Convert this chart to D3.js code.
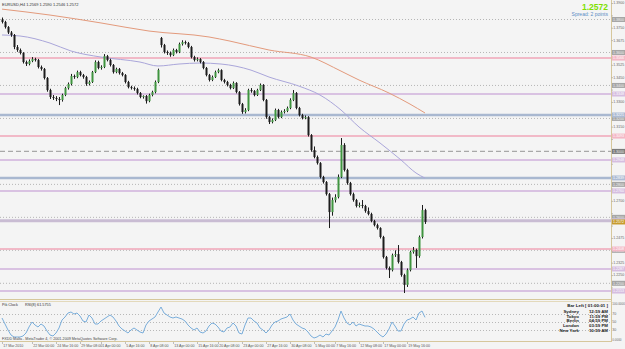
<!DOCTYPE html>
<html><head><meta charset="utf-8">
<script src="https://cdn.jsdelivr.net/npm/d3@7"></script>
<style>html,body{margin:0;padding:0;background:#f4f4f4;overflow:hidden}svg{display:block}</style>
</head><body><svg id="c" width="625" height="349"></svg>
<script>
// ---------- DATA ----------
const firstOpen = 1.3800;
const gapOpens = {53: 1.3688};
const closes = [1.3785,1.3754,1.3721,1.3706,1.3633,1.3615,1.3597,1.3542,1.3530,1.3548,
1.3560,1.3554,1.3512,1.3500,1.3445,1.3372,1.3330,1.3324,1.3318,1.3312,
1.3342,1.3384,1.3409,1.3457,1.3451,1.3481,1.3463,1.3451,1.3409,1.3421,
1.3481,1.3542,1.3506,1.3512,1.3578,1.3554,1.3524,1.3481,1.3500,1.3475,
1.3463,1.3421,1.3390,1.3384,1.3378,1.3354,1.3330,1.3336,1.3305,1.3342,
1.3360,1.3421,1.3494,1.3645,1.3603,1.3597,1.3584,1.3615,1.3603,1.3651,
1.3663,1.3657,1.3633,1.3572,1.3554,1.3560,1.3542,1.3506,1.3463,1.3433,
1.3451,1.3481,1.3493,1.3433,1.3421,1.3403,1.3384,1.3415,1.3360,1.3287,
1.3239,1.3251,1.3372,1.3366,1.3342,1.3372,1.3403,1.3312,1.3208,1.3178,
1.3190,1.3251,1.3208,1.3239,1.3245,1.3263,1.3312,1.3354,1.3263,1.3220,
1.3202,1.3208,1.3099,1.3008,1.2966,1.2929,1.2845,1.2814,1.2741,1.2632,
1.2705,1.2723,1.2845,1.3039,1.2887,1.2808,1.2741,1.2705,1.2669,1.2675,
1.2669,1.2638,1.2620,1.2578,1.2553,1.2535,1.2481,1.2359,1.2293,1.2280,
1.2371,1.2377,1.2329,1.2250,1.2190,1.2280,1.2390,1.2402,1.2365,1.2481,
1.2644,1.2572];
const highs = [1.3812,1.3792,1.3760,1.3730,1.3712,1.3645,1.3624,1.3602,1.3551,1.3558,
1.3572,1.3568,1.3561,1.3521,1.3506,1.3451,1.3380,1.3342,1.3335,1.3330,
1.3350,1.3392,1.3418,1.3470,1.3466,1.3490,1.3489,1.3470,1.3458,1.3430,
1.3488,1.3552,1.3550,1.3522,1.3590,1.3585,1.3562,1.3530,1.3508,1.3506,
1.3482,1.3469,1.3428,1.3398,1.3394,1.3386,1.3360,1.3340,1.3342,1.3350,
1.3368,1.3430,1.3502,1.3694,1.3652,1.3612,1.3606,1.3624,1.3622,1.3660,
1.3674,1.3672,1.3664,1.3640,1.3580,1.3570,1.3566,1.3548,1.3512,1.3470,
1.3460,1.3490,1.3502,1.3498,1.3440,1.3428,1.3410,1.3424,1.3420,1.3366,
1.3294,1.3262,1.3380,1.3384,1.3372,1.3380,1.3412,1.3408,1.3318,1.3215,
1.3200,1.3260,1.3258,1.3248,1.3256,1.3272,1.3322,1.3372,1.3360,1.3270,
1.3228,1.3218,1.3214,1.3105,1.3030,1.2975,1.2935,1.2852,1.2820,1.2748,
1.2720,1.2740,1.2860,1.3081,1.3050,1.2895,1.2815,1.2750,1.2712,1.2690,
1.2705,1.2676,1.2660,1.2628,1.2585,1.2562,1.2540,1.2488,1.2366,1.2302,
1.2380,1.2400,1.2432,1.2336,1.2258,1.2290,1.2398,1.2420,1.2410,1.2490,
1.2675,1.2652];
const lows = [1.3776,1.3745,1.3712,1.3695,1.3620,1.3604,1.3588,1.3533,1.3518,1.3522,
1.3541,1.3545,1.3503,1.3490,1.3436,1.3362,1.3318,1.3312,1.3305,1.3281,
1.3302,1.3335,1.3375,1.3400,1.3440,1.3444,1.3455,1.3441,1.3398,1.3400,
1.3415,1.3475,1.3498,1.3496,1.3505,1.3546,1.3515,1.3472,1.3474,1.3466,
1.3455,1.3412,1.3382,1.3375,1.3368,1.3345,1.3322,1.3320,1.3290,1.3298,
1.3334,1.3352,1.3414,1.3630,1.3594,1.3585,1.3574,1.3578,1.3594,1.3596,
1.3642,1.3648,1.3625,1.3564,1.3545,1.3546,1.3534,1.3498,1.3455,1.3424,
1.3426,1.3445,1.3474,1.3425,1.3412,1.3394,1.3376,1.3378,1.3352,1.3278,
1.3228,1.3230,1.3244,1.3356,1.3334,1.3336,1.3366,1.3304,1.3198,1.3166,
1.3170,1.3184,1.3200,1.3202,1.3230,1.3238,1.3256,1.3305,1.3255,1.3212,
1.3194,1.3195,1.3090,1.2998,1.2958,1.2920,1.2836,1.2805,1.2732,1.2535,
1.2610,1.2690,1.2715,1.2838,1.2878,1.2798,1.2732,1.2695,1.2660,1.2660,
1.2655,1.2628,1.2612,1.2570,1.2545,1.2526,1.2472,1.2350,1.2284,1.2232,
1.2272,1.2360,1.2320,1.2240,1.2141,1.2178,1.2272,1.2380,1.2293,1.2355,
1.2472,1.2560];

const maSlowIdx = [0,16,33,49,69,76,89,103,113,119,129,136,141];
const maSlow = [1.3863,1.3827,1.3779,1.3730,1.3694,1.3669,1.3615,1.3572,1.3487,1.3433,1.3354,1.3287,1.3233];
const maMidIdx = [0,6,16,23,33,46,52,59,66,73,83,89,99,106,113,119,126,133,138,141];
const maMid = [1.3706,1.3700,1.3657,1.3609,1.3572,1.3542,1.3518,1.3530,1.3536,1.3530,1.3493,1.3451,1.3396,1.3342,1.3251,1.3148,1.3051,1.2948,1.2869,1.2838];

const rsi = [60,45,30,17.5,12.5,12.5,12.5,15,22.5,37.5,
50,42.5,37.5,45,40,27.5,17.5,15,22.5,35,
55,62.5,72.5,75,70,72.5,65,52.5,50,67.5,
60,45,45,52.5,57.5,62.5,67.5,62.5,52.5,40,
32.5,27.5,22.5,30,35,30,25,22.5,42.5,52.5,
57.5,62.5,75,87.5,72.5,67.5,62.5,60,62.5,60,
57.5,52.5,42.5,35,30,35,25,22.5,27.5,40,
47.5,45,37.5,27.5,25,35,37.5,47.5,40,22.5,
20,42.5,60,60,52.5,47.5,35,30,22.5,30,
42.5,50,52.5,57.5,60,62.5,70,55,45,40,
35,32.5,25,15,10,12.5,17.5,12.5,20,17.5,
27.5,37.5,55,77.5,60,47.5,42.5,50,40,45,
42.5,40,40,37.5,32.5,25,17.5,12.5,20,32.5,
50,40,27.5,27.5,45,55,57.5,62.5,55,72.5,
77.5,61.58];
const rsiLevels = [70,50,30];
const rsiAxisLabels = ['100.0000','70','50','30','0.0000'];
const rsiAxisValues = [100,70,50,30,0];

const levelPrices = [1.3800,1.3600,1.3400,1.3200,1.2800,1.2600,1.2400,1.2200,
  1.3000, 1.3566,1.3093,1.2408, 1.3348,1.2948,1.2760,1.2287,1.2153, 1.2580, 1.3221,1.2839];
const levelKinds = ['grid','grid','grid','grid','grid','grid','grid','grid',
  'dash','pink','pink','pink','lilac','lilac','lilac','lilac','lilac','thick','blue','blue'];

const priceTicks = [1.3900,1.3825,1.3750,1.3675,1.3600,1.3525,1.3450,1.3375,1.3300,1.3225,
  1.3150,1.3075,1.3000,1.2925,1.2850,1.2775,1.2700,1.2625,1.2550,1.2475,1.2400,1.2325,1.2250,1.2175];

const timeLabels = ['17 Mar 2010','22 Mar 00:00','24 Mar 16:00','29 Mar 08:00','1 Apr 00:00','5 Apr 16:00',
  '8 Apr 08:00','13 Apr 00:00','15 Apr 16:00','20 Apr 08:00','23 Apr 00:00','27 Apr 16:00','30 Apr 08:00',
  '5 May 00:00','7 May 16:00','12 May 08:00','17 May 00:00','19 May 16:00'];
const timeLabelIdx = [0,10,18,26,33,41,49,57,65,72,80,88,96,104,111,119,127,135];

const lastPrice = 1.2572;
const titleText = 'EURUSD,H4  1.2569 1.2590 1.2546 1.2572';
const clockRows = [['Sydney','12:59 AM'],['Tokyo','11:59 PM'],['Berlin','04:59 PM'],['London','03:59 PM'],['New York','10:59 AM']];

// ---------- DRAW ----------
const svg = d3.select('#c');
const FONT = 'Liberation Sans, Arial, sans-serif';
const x = d3.scaleLinear().domain([0, closes.length - 1]).range([2, 425]);
const y = d3.scaleLinear().domain([1.38, 1.22]).range([19.5, 283.3]);
const ry = d3.scaleLinear().domain([0, 100]).range([342, 302]);
const PR = 611.5;

svg.append('rect').attr('width', 625).attr('height', 349).attr('fill', '#f4f4f4');

const main = svg.append('g');
svg.append('clipPath').attr('id', 'cm').append('rect').attr('x', 0).attr('y', 0).attr('width', PR).attr('height', 299);
main.attr('clip-path', 'url(#cm)');

const lvlStyle = {
  grid: {c: '#b5b5b5', w: 1, d: '1,2', box: '#a6a6a6', t: '#f0f0f0'},
  dash: {c: '#a8a8a8', w: 1.2, d: '5,3', box: '#7c7c7c', t: '#eeeeee'},
  pink: {c: '#f1a6b8', w: 1.5, d: null, box: '#f3b8c6', t: '#ffffff'},
  lilac: {c: '#d0b2dd', w: 1.5, d: null, box: '#d6bee0', t: '#ffffff'},
  thick: {c: '#c9bcd3', w: 3, d: null, box: '#c9bcd3', t: '#ffffff'},
  blue: {c: '#a9b8d0', w: 2.5, d: null, box: '#aebcd4', t: '#ffffff'}
};
const levels = levelPrices.map((p, i) => ({p, k: levelKinds[i]}));
main.selectAll('line.lvl').data(levels).join('line')
  .attr('x1', 0).attr('x2', PR).attr('y1', d => y(d.p)).attr('y2', d => y(d.p))
  .attr('stroke', d => lvlStyle[d.k].c).attr('stroke-width', d => lvlStyle[d.k].w)
  .attr('stroke-dasharray', d => lvlStyle[d.k].d);

// moving averages
const lineGen = d3.line().x(d => x(d[0])).y(d => y(d[1])).curve(d3.curveMonotoneX);
main.append('path').attr('d', lineGen(maSlowIdx.map((v, i) => [v, maSlow[i]])))
  .attr('fill', 'none').attr('stroke', '#e39a7c').attr('stroke-width', 1);
main.append('path').attr('d', lineGen(maMidIdx.map((v, i) => [v, maMid[i]])))
  .attr('fill', 'none').attr('stroke', '#aaa6da').attr('stroke-width', 1);

// candles
const bars = closes.map((c, i) => ({
  i, c, h: highs[i], l: lows[i],
  o: gapOpens[i] !== undefined ? gapOpens[i] : (i === 0 ? firstOpen : closes[i - 1])
}));
main.selectAll('line.wick').data(bars).join('line')
  .attr('x1', d => Math.round(x(d.i)) + 0.5).attr('x2', d => Math.round(x(d.i)) + 0.5)
  .attr('y1', d => y(d.h)).attr('y2', d => y(d.l))
  .attr('stroke', '#1c1c1c').attr('stroke-width', 1);
main.selectAll('rect.body').data(bars).join('rect')
  .attr('x', d => Math.round(x(d.i)) - 0.5).attr('width', 2)
  .attr('y', d => Math.min(y(d.o), y(d.c)))
  .attr('height', d => Math.max(1, Math.abs(y(d.o) - y(d.c))))
  .attr('fill', d => d.c >= d.o ? '#3f943f' : '#1c1c1c');

// panel borders
const tan = '#d6c79c';
svg.append('line').attr('x1', PR).attr('x2', PR).attr('y1', 0).attr('y2', 342).attr('stroke', tan).attr('stroke-width', 1);
svg.append('line').attr('x1', 0).attr('x2', PR).attr('y1', 299.5).attr('y2', 299.5).attr('stroke', tan);
svg.append('line').attr('x1', 0).attr('x2', PR).attr('y1', 301.5).attr('y2', 301.5).attr('stroke', '#e3d9bb');
svg.append('line').attr('x1', 0).attr('x2', PR).attr('y1', 341.5).attr('y2', 341.5).attr('stroke', tan);

// price axis ticks (hidden where a line label box sits on top, as in the terminal)
const boxYs = levels.map(d => y(d.p)).concat([y(lastPrice)]);
const visTicks = priceTicks.filter(p => boxYs.every(b => Math.abs(b - y(p)) > 5.5) && y(p) > 3);
svg.selectAll('text.pt').data(visTicks).join('text')
  .attr('x', 613.3).attr('y', d => y(d) + 1.4)
  .attr('font-family', FONT).attr('font-size', 3.6).attr('fill', '#666')
  .text(d => d.toFixed(4));
svg.selectAll('line.ptk').data(priceTicks).join('line')
  .attr('x1', PR).attr('x2', PR + 1.5).attr('y1', d => y(d) + 0.5).attr('y2', d => y(d) + 0.5)
  .attr('stroke', '#999').attr('stroke-width', 0.6);

// level label boxes on axis
const lb = svg.selectAll('g.lb').data(levels).join('g')
  .attr('transform', d => `translate(612,${y(d.p) - 2.5})`);
lb.append('rect').attr('width', 13).attr('height', 5).attr('fill', d => lvlStyle[d.k].box);
lb.append('text').attr('x', 1).attr('y', 3.9).attr('font-family', FONT).attr('font-size', 3.6)
  .attr('fill', d => lvlStyle[d.k].t).text(d => d.p.toFixed(4));

// current price box
const cp = svg.append('g').attr('transform', `translate(612,${y(lastPrice) - 2.5})`);
cp.append('rect').attr('width', 13).attr('height', 5).attr('fill', '#c79b2e');
cp.append('text').attr('x', 1).attr('y', 3.9).attr('font-family', FONT).attr('font-size', 3.6).attr('fill', '#fff').text(lastPrice.toFixed(4));

// title & header
svg.append('text').attr('x', 2).attr('y', 5.5).attr('font-family', FONT).attr('font-size', 4).attr('fill', '#333').text(titleText);
svg.append('text').attr('x', 608).attr('y', 10).attr('text-anchor', 'end').attr('font-family', FONT)
  .attr('font-size', 8.5).attr('font-weight', 'bold').attr('fill', '#7fe000').text(lastPrice.toFixed(4));
svg.append('text').attr('x', 608).attr('y', 15.5).attr('text-anchor', 'end').attr('font-family', FONT)
  .attr('font-size', 5).attr('fill', '#5a8cc4').text('Spread: 2 points');

// RSI panel
const rg = svg.append('g');
rg.selectAll('line.rl').data(rsiLevels).join('line')
  .attr('x1', 0).attr('x2', PR).attr('y1', d => ry(d) + 0.5).attr('y2', d => ry(d) + 0.5)
  .attr('stroke', '#b8b8b8').attr('stroke-dasharray', '1,2');
rg.append('path').attr('d', d3.line().x((d, i) => x(i)).y(d => ry(d))(rsi))
  .attr('fill', 'none').attr('stroke', '#7aaedb').attr('stroke-width', 1);
svg.append('text').attr('x', 2).attr('y', 306).attr('font-family', FONT).attr('font-size', 3.8).attr('fill', '#333').text('Pik Clock');
svg.append('text').attr('x', 25).attr('y', 306).attr('font-family', FONT).attr('font-size', 3.8).attr('fill', '#333').text('RSI(8) 61.5755');
svg.append('text').attr('x', 2).attr('y', 340).attr('font-family', FONT).attr('font-size', 3.7).attr('fill', '#444')
  .text('FXDD Malta - MetaTrader 4, \u00A9 2001-2009 MetaQuotes Software Corp.');
svg.selectAll('text.rt').data(rsiAxisValues).join('text')
  .attr('x', 612.3).attr('y', d => Math.min(341, Math.max(304.5, ry(d) + 1.3))).attr('font-family', FONT)
  .attr('font-size', (d, i) => rsiAxisLabels[i].length > 4 ? 3.0 : 3.6).attr('fill', '#666')
  .text((d, i) => rsiAxisLabels[i]);

// clock
const CK = 4.4;
svg.append('text').attr('x', 608).attr('y', 306.8).attr('text-anchor', 'end').attr('font-family', FONT)
  .attr('font-size', CK).attr('font-weight', 'bold').attr('fill', '#222').text('Bar Left [ 01:00:01 ]');
clockRows.forEach((r, k) => {
  const yy = 312.6 + k * 4.9;
  svg.append('text').attr('x', 579).attr('y', yy).attr('text-anchor', 'end').attr('font-family', FONT)
    .attr('font-size', CK).attr('font-weight', 'bold').attr('fill', '#222').text(r[0]);
  svg.append('text').attr('x', 608).attr('y', yy).attr('text-anchor', 'end').attr('font-family', FONT)
    .attr('font-size', CK).attr('font-weight', 'bold').attr('fill', '#222').text(r[1]);
});

// time axis
const tl = timeLabels.map((t, k) => ({t, i: timeLabelIdx[k]}));
svg.selectAll('line.tt').data(tl).join('line')
  .attr('x1', d => Math.round(x(d.i)) + 0.5).attr('x2', d => Math.round(x(d.i)) + 0.5)
  .attr('y1', 342).attr('y2', 344).attr('stroke', '#999').attr('stroke-width', 0.6);
svg.selectAll('text.tl').data(tl).join('text')
  .attr('x', d => x(d.i) + 1.2).attr('y', 347.3).attr('font-family', FONT).attr('font-size', 3.6).attr('fill', '#555')
  .text(d => d.t);
</script></body></html>
